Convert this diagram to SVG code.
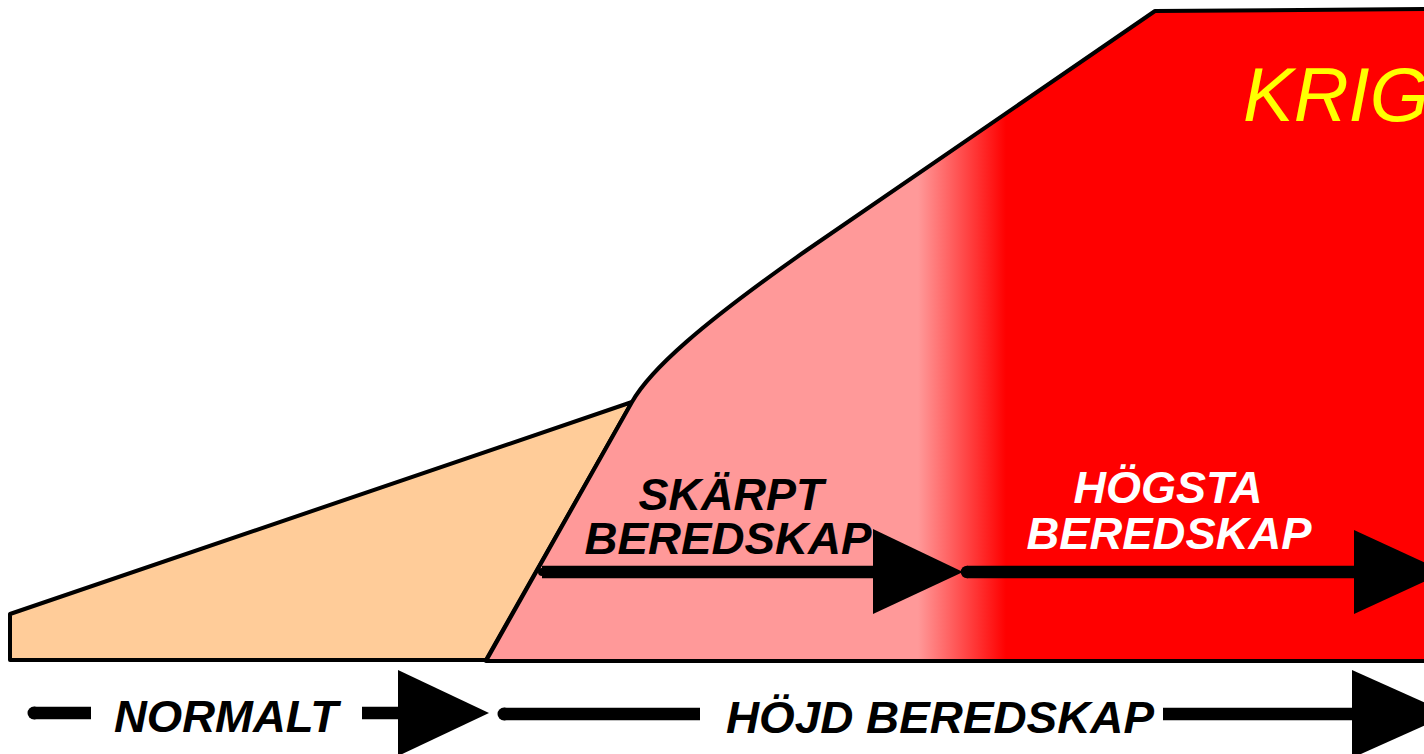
<svg xmlns="http://www.w3.org/2000/svg" width="1424" height="754" viewBox="0 0 1424 754">
  <defs>
    <linearGradient id="heat" gradientUnits="userSpaceOnUse" x1="918" y1="0" x2="1006" y2="0">
      <stop offset="0" stop-color="#FF9999"/>
      <stop offset="1" stop-color="#FF0000"/>
    </linearGradient>
    <style>
      .area { stroke: #000; stroke-width: 4; stroke-linejoin: round; }
      .lbl { font-family: "Liberation Sans", Arial, sans-serif; font-weight: bold; font-style: italic; font-size: 45px; }
      .shaft { stroke: #000; stroke-width: 12.5; stroke-linecap: butt; fill: none; }
      .head { fill: #000; }
      .cap { fill: #000; }
    </style>
  </defs>
  <rect width="1424" height="754" fill="#FFFFFF"/>

  <g id="normal-zone">
    <path class="area" fill="#FFCC99" d="M10,614 L632,402 L486,660 L10,660 Z"/>
  </g>

  <g id="elevated-zone">
    <path class="area" fill="url(#heat)" d="M486,661 L632,402 C650,370 700,325 807,250 L1155,11 L1440,9 L1440,661 Z"/>
  </g>

  <g id="krig">
    <text x="1243" y="121" font-family="Liberation Sans, Arial, sans-serif" font-style="italic" font-size="76" fill="#FFFF00">KRIG</text>
  </g>

  <g id="skarpt-label">
    <text class="lbl" x="731" y="510" text-anchor="middle" fill="#000">SKÄRPT</text>
    <text class="lbl" x="728" y="554" text-anchor="middle" fill="#000" textLength="287" lengthAdjust="spacingAndGlyphs">BEREDSKAP</text>
  </g>

  <g id="hogsta-label">
    <text class="lbl" x="1168" y="503" text-anchor="middle" fill="#FFFFFF">HÖGSTA</text>
    <text class="lbl" x="1169" y="549" text-anchor="middle" fill="#FFFFFF" textLength="285" lengthAdjust="spacingAndGlyphs">BEREDSKAP</text>
  </g>

  <g id="normalt-label">
    <text class="lbl" x="114" y="732" fill="#000" textLength="224" lengthAdjust="spacingAndGlyphs">NORMALT</text>
  </g>

  <g id="hojd-label">
    <text class="lbl" x="726" y="733" fill="#000" textLength="428" lengthAdjust="spacingAndGlyphs">HÖJD BEREDSKAP</text>
  </g>

  <g id="connectors">
    <!-- skärpt beredskap arrow -->
    <line class="shaft" x1="542" y1="572" x2="876" y2="572"/>
    <circle class="cap" cx="542" cy="572" r="4"/>
    <polygon class="head" points="873,529 963,572 873,614"/>
    <!-- högsta beredskap arrow -->
    <circle class="cap" cx="967" cy="572" r="6.25"/>
    <line class="shaft" x1="967" y1="572" x2="1357" y2="572"/>
    <polygon class="head" points="1354,530 1445,572 1354,614"/>
    <!-- normalt arrow -->
    <circle class="cap" cx="34" cy="713" r="6.5"/>
    <line class="shaft" x1="34" y1="713" x2="91" y2="713" stroke-width="13"/>
    <line class="shaft" x1="362" y1="713" x2="400" y2="713" stroke-width="13"/>
    <polygon class="head" points="398,670 489,713 398,756"/>
    <!-- höjd beredskap arrow -->
    <circle class="cap" cx="504" cy="714" r="6.5"/>
    <line class="shaft" x1="504" y1="714" x2="700" y2="714" stroke-width="13"/>
    <line class="shaft" x1="1163" y1="714" x2="1355" y2="714" stroke-width="13"/>
    <polygon class="head" points="1352,670 1450,714 1352,758"/>
  </g>
</svg>
